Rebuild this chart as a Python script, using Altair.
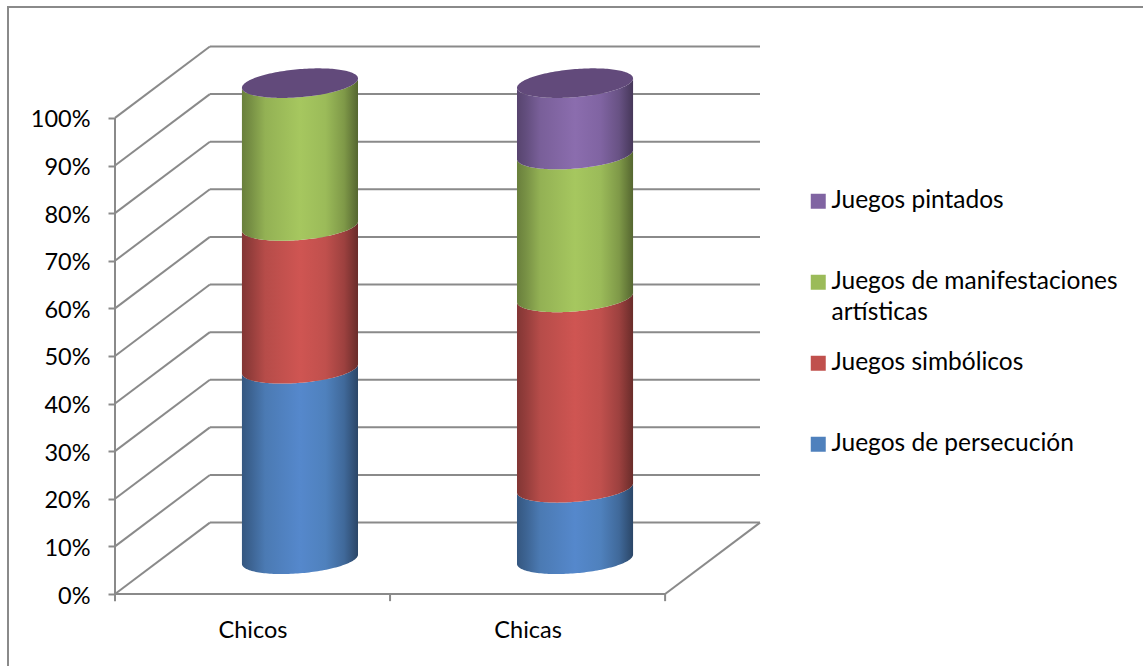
import numpy as np
import pandas as pd
import altair as alt

# Share of each kind of game, in percent, by group (stacked bottom to top)
groups = ["Chicos", "Chicas"]
series = ["Juegos de persecución", "Juegos simbólicos",
          "Juegos de manifestaciones artísticas", "Juegos pintados"]
chicos = [40, 30, 30, 0]
chicas = [15, 40, 30, 15]
colors = ["#4F81BD", "#C0504D", "#9BBB59", "#8064A2"]
highlights = ["#5588CC", "#CF5552", "#A6C75F", "#8B6DAE"]
top_colors = ["#3C618F", "#913C3A", "#748C43", "#624A7B"]
y_ticks = list(range(0, 101, 10))
x_ticks = [0, 1, 2]
x_label_pos = [0.5, 1.5]

FONT = "Lato"
AXIS_FONT_SIZE = 23.5
LEGEND_FONT_SIZE = 24.5
GRID = "#8A8A8A"

# Pseudo-3D box: the back wall is shifted by this much in data units
DEPTH_X = 0.345
DEPTH_Y = 15.0
X_MAX = 2 + DEPTH_X
Y_MAX = 115.1
WIDTH = 645
HEIGHT = 548

# Cylinder outline, in data units
CYL_HALF_W = 0.211
ELL_SHEAR = 0.98
ELL_MINOR = 2.95
BASE_Y = DEPTH_Y / 2 - 0.2
u = np.cos(np.linspace(np.pi, 0, 81))
arc = np.sqrt(np.clip(1 - u ** 2, 0, None))

x_scale = alt.Scale(domain=[0, X_MAX], nice=False, zero=False)
y_scale = alt.Scale(domain=[0, Y_MAX], nice=False, zero=False)
X = alt.X("x:Q", scale=x_scale, title=None,
          axis=alt.Axis(values=x_label_pos, ticks=False, domain=False, grid=False,
                        labelExpr="datum.value < 1 ? 'Chicos' : 'Chicas'",
                        labelFont=FONT, labelFontSize=AXIS_FONT_SIZE, labelColor="#000000",
                        labelPadding=24, labelAngle=0))
Y = alt.Y("y:Q", scale=y_scale, title=None,
          axis=alt.Axis(values=y_ticks, ticks=True, tickColor=GRID, tickSize=7, tickWidth=2,
                        domain=False, grid=False, labelExpr="datum.value + '%'",
                        labelFont=FONT, labelFontSize=AXIS_FONT_SIZE, labelColor="#000000",
                        labelPadding=18, labelOffset=2))


def segments(rows):
    return alt.Chart(pd.DataFrame(rows)).mark_rule(color=GRID, strokeWidth=2, clip=False).encode(
        x=X, y=Y, x2="x2:Q", y2="y2:Q")


def shade(base, light):
    """Horizontal gradient that wraps a flat colour round the cylinder."""
    b = np.array([int(base[i:i + 2], 16) for i in (1, 3, 5)], float)

    def tone(f):
        return "#%02x%02x%02x" % tuple(np.clip(b * f, 0, 255).astype(int))

    stops = [(0, tone(0.68)), (0.08, tone(0.78)), (0.2, tone(0.95)), (0.5, light),
             (0.72, tone(1.0)), (0.88, tone(0.82)), (1, tone(0.55))]
    return alt.LinearGradient(gradient="linear", x1=0, x2=1, y1=0, y2=0,
                              stops=[alt.GradientStop(offset=o, color=c) for o, c in stops])


def front_arc(centre, level):
    return pd.DataFrame({
        "x": centre + CYL_HALF_W * u,
        "low": level + BASE_Y + ELL_SHEAR * u - ELL_MINOR * arc,
    })


layers = []

# Back wall, side wall and floor lines
layers.append(segments([{"x": DEPTH_X, "x2": X_MAX, "y": v + DEPTH_Y, "y2": v + DEPTH_Y} for v in y_ticks]))
layers.append(segments([{"x": 0, "x2": DEPTH_X, "y": v, "y2": v + DEPTH_Y} for v in y_ticks]))
layers.append(segments([
    {"x": 0, "x2": 0, "y": 0, "y2": 100},
    {"x": 0, "x2": 2, "y": 0, "y2": 0},
    {"x": 2, "x2": X_MAX, "y": 0, "y2": DEPTH_Y},
] + [{"x": t, "x2": t, "y": 0, "y2": -1.5} for t in x_ticks]))

# Cylinders: one shaded band per series, capped by a darker ellipse
for g, values in enumerate([chicos, chicas]):
    centre = g + 0.5 + DEPTH_X / 2
    level = 0.0
    for s, v in enumerate(values):
        if v <= 0:
            continue
        lower = front_arc(centre, level)
        upper = front_arc(centre, level + v)
        band = pd.DataFrame({"x": lower["x"], "y": lower["low"], "y2": upper["low"]})
        layers.append(alt.Chart(band).mark_area(color=shade(colors[s], highlights[s]), clip=False).encode(
            x=X, y=Y, y2="y2:Q"))
        level += v
    cap_low = front_arc(centre, level)
    cap = pd.DataFrame({"x": cap_low["x"], "y": cap_low["low"], "y2": cap_low["low"] + 2 * ELL_MINOR * arc})
    layers.append(alt.Chart(cap).mark_area(color=top_colors[len(values) - 1], clip=False).encode(
        x=X, y=Y, y2="y2:Q"))

# Hidden layer that only feeds the legend
legend_df = pd.DataFrame({"Serie": series, "x": [0.0] * 4, "y": [0.0] * 4})
layers.append(alt.Chart(legend_df).mark_square(opacity=0).encode(
    x=X, y=Y,
    color=alt.Color("Serie:N",
                    scale=alt.Scale(domain=series, range=colors),
                    legend=alt.Legend(
                        orient="none", legendX=691, legendY=143, title=None,
                        symbolType="square", symbolSize=225, symbolOpacity=1, symbolStrokeWidth=0,
                        labelFont=FONT, labelFontSize=LEGEND_FONT_SIZE, labelColor="#000000",
                        labelLimit=400, labelOffset=1, padding=0, rowPadding=25,
                        gridAlign="all", labelBaseline="middle", labelAlign="left",
                        labelExpr="datum.label == 'Juegos de manifestaciones artísticas' ? ['Juegos de manifestaciones', 'artísticas'] : datum.label",
                        values=series[::-1]))))

# Outer frame: only its top and left edges fall inside the canvas
frame = alt.Chart(pd.DataFrame({"Serie": ["f"]})).mark_rect(
    fill=None, stroke="#8A8A8A", strokeWidth=2, clip=False
).encode(x=alt.value(8 - 115), x2=alt.value(1160 - 115), y=alt.value(7 - 46), y2=alt.value(680 - 46))

chart = alt.layer(frame, *layers).properties(
    width=WIDTH, height=HEIGHT,
    autosize=alt.AutoSizeParams(type="none"),
    padding={"left": 115, "top": 46, "right": 383, "bottom": 72},
    background="#FFFFFF",
).configure(style={"guide-label": {"lineHeight": 31}}, view=alt.ViewConfig(stroke=None))

chart.save("out.html", embed_options={"renderer": "svg", "actions": False})
